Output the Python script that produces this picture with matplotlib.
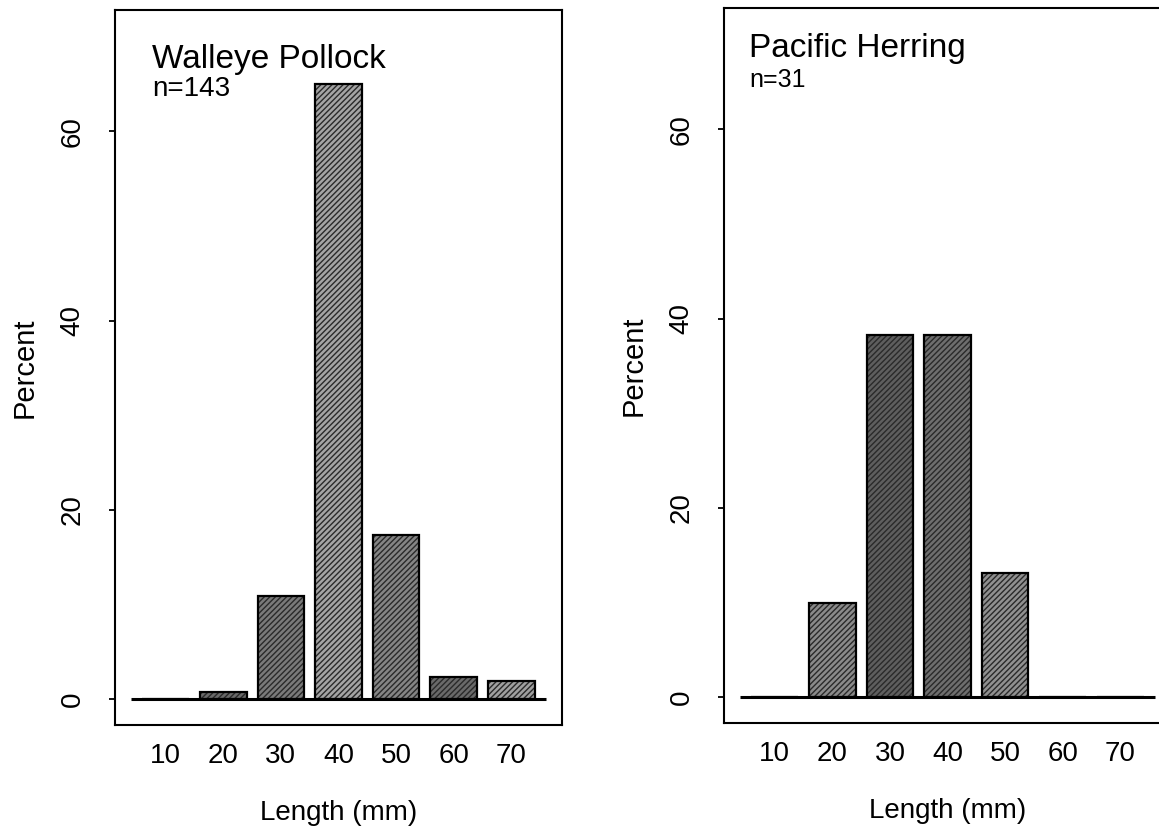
import numpy as np
import matplotlib
matplotlib.use("Agg")
import matplotlib.pyplot as plt

plt.rcParams['font.family'] = ['Liberation Sans', 'DejaVu Sans']
plt.rcParams['hatch.linewidth'] = 1.0

# length classes (mm)
lengths = [10, 20, 30, 40, 50, 60, 70]

# percent by length class
pollock_pct = [0.0, 0.75, 10.9, 65.0, 17.4, 2.4, 1.9]
herring_pct = [0.0, 10.0, 38.3, 38.3, 13.1, 0.0, 0.0]

pollock_title = "Walleye Pollock"
pollock_n = "n=143"
herring_title = "Pacific Herring"
herring_n = "n=31"

# bar shades (scan looks like stippled gray)
pollock_shade = ['#8c8c8c', '#6a6a6a', '#7a7a7a', '#a4a4a4', '#858585', '#6a6a6a', '#a0a0a0']
herring_shade = ['#8c8c8c', '#8a8a8a', '#5e5e5e', '#6e6e6e', '#909090', '#8c8c8c', '#8c8c8c']

fig = plt.figure(figsize=(11.59, 8.35), dpi=100)
ax1 = fig.add_axes([0.0992, 0.1317, 0.3857, 0.8563])
ax2 = fig.add_axes([0.6247, 0.1341, 0.3857, 0.8563])


def panel(ax, vals, shades, title, ntext, title_xy, n_xy, n_fs):
    x = np.array(lengths)
    # fill with hatched texture
    ax.bar(x, vals, width=8.1, color=shades, hatch='//////', edgecolor='#2a2a2a',
           linewidth=0, zorder=2)
    # outline
    ax.bar(x, vals, width=8.1, facecolor='none', edgecolor='black',
           linewidth=1.6, zorder=3)
    # zero line across the bars
    ax.hlines(0, x[0] - 6, x[-1] + 6, color='black', linewidth=2.2, zorder=4)

    ax.set_xlim(1.2, 78.8)
    ax.set_ylim(-2.7, 72.8)
    ax.set_xticks(lengths)
    ax.set_xticklabels([str(v) for v in lengths], fontsize=20)
    ax.set_yticks([0, 20, 40, 60])
    ax.set_yticklabels(['0', '20', '40', '60'], fontsize=20, rotation=90, va='center')
    ax.tick_params(axis='x', length=0, pad=13)
    ax.tick_params(axis='y', direction='out', length=4, width=1.3, pad=17)
    for s in ax.spines.values():
        s.set_linewidth(1.5)
    ax.set_xlabel('Length (mm)', fontsize=20, labelpad=22)
    ax.set_ylabel('Percent', fontsize=21, labelpad=15)

    ax.text(title_xy[0], title_xy[1], title, transform=ax.transAxes,
            fontsize=24, ha='left', va='baseline')
    ax.text(n_xy[0], n_xy[1], ntext, transform=ax.transAxes,
            fontsize=n_fs, ha='left', va='baseline')


panel(ax1, pollock_pct, pollock_shade, pollock_title, pollock_n,
      (0.083, 0.919), (0.083, 0.880), 20)
panel(ax2, herring_pct, herring_shade, herring_title, herring_n,
      (0.056, 0.931), (0.056, 0.889), 18)

fig.savefig('out.png', dpi=100)
